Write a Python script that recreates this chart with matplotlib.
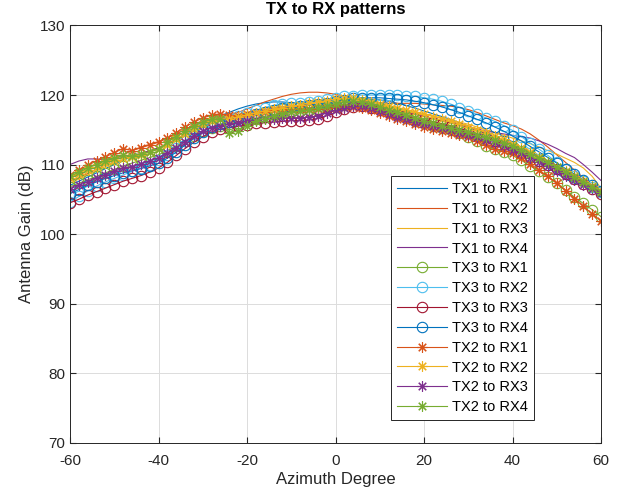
import numpy as np
import matplotlib
matplotlib.use("Agg")
import matplotlib.pyplot as plt

plt.rcParams['font.family'] = ['Liberation Sans', 'DejaVu Sans']
plt.rcParams['axes.unicode_minus'] = False

# azimuth grid, 2 degree steps
azimuth = np.arange(-60, 61, 2)

# gain values (dB)
tx1_rx1 = [107.0, 107.6, 108.2, 108.8, 109.4, 110.0, 110.7, 111.1, 111.5, 111.9, 112.3, 112.9, 113.6, 114.4, 115.2, 115.9,
           116.5, 117.0, 117.5, 118.0, 118.4, 118.7, 118.9, 119.0, 119.0, 118.9, 118.8, 118.7, 118.6, 118.7, 118.9, 119.1,
           119.3, 119.4, 119.4, 119.3, 119.1, 118.8, 118.5, 118.1, 117.7, 117.3, 116.9, 116.5, 116.0, 115.5, 115.0, 114.5,
           113.9, 113.3, 112.6, 111.9, 111.1, 110.3, 109.5, 108.7, 107.9, 107.3, 106.9, 106.5, 106.1]
tx1_rx2 = [107.6, 108.1, 108.7, 109.3, 110.0, 110.7, 111.4, 112.0, 112.5, 112.9, 113.3, 113.8, 114.4, 115.0, 115.6, 116.1,
           116.5, 116.8, 117.1, 117.5, 118.0, 118.5, 119.0, 119.4, 119.8, 120.1, 120.3, 120.4, 120.4, 120.3, 120.1, 119.8,
           119.5, 119.2, 119.0, 118.9, 118.8, 118.8, 118.8, 118.8, 118.7, 118.6, 118.5, 118.4, 118.2, 117.9, 117.5, 117.0,
           116.5, 116.0, 115.6, 115.1, 114.4, 113.5, 112.5, 111.4, 110.3, 109.2, 108.1, 107.0, 106.0]
tx1_rx3 = [107.3, 107.9, 108.5, 109.1, 109.7, 110.2, 110.7, 111.1, 111.5, 111.9, 112.4, 113.0, 113.7, 114.4, 115.1, 115.7,
           116.2, 116.6, 116.9, 117.2, 117.5, 117.8, 118.1, 118.4, 118.6, 118.8, 118.9, 119.0, 119.1, 119.2, 119.3, 119.4,
           119.4, 119.3, 119.1, 118.8, 118.5, 118.2, 117.9, 117.6, 117.3, 117.0, 116.7, 116.4, 116.1, 115.8, 115.4, 115.0,
           114.6, 114.2, 113.8, 113.4, 113.0, 112.5, 112.0, 111.5, 110.9, 110.3, 109.5, 108.3, 106.6]
tx1_rx4 = [110.0, 110.5, 110.8, 110.8, 110.7, 110.8, 111.0, 111.3, 111.6, 112.0, 112.4, 112.9, 113.5, 114.2, 114.9, 115.5,
           116.0, 116.4, 116.7, 117.0, 117.3, 117.6, 117.9, 118.1, 118.3, 118.4, 118.5, 118.6, 118.7, 118.8, 118.9, 119.0,
           119.0, 118.9, 118.7, 118.4, 118.1, 117.8, 117.5, 117.2, 116.9, 116.6, 116.3, 116.0, 115.7, 115.4, 115.1, 114.8,
           114.6, 114.4, 114.2, 114.0, 113.8, 113.4, 112.9, 112.3, 111.6, 111.0, 110.0, 108.9, 107.7]
tx3_rx1 = [106.8, 107.3, 107.8, 108.3, 108.8, 109.3, 109.8, 110.2, 110.6, 111.0, 111.4, 112.0, 112.7, 113.4, 114.1, 114.8,
           115.3, 115.6, 115.8, 116.0, 116.3, 116.6, 116.9, 117.2, 117.4, 117.6, 117.7, 117.8, 117.9, 118.1, 118.3, 118.6,
           118.8, 118.8, 118.5, 118.1, 117.6, 117.1, 116.7, 116.3, 115.9, 115.5, 115.2, 114.9, 114.5, 114.0, 113.4, 112.7,
           112.2, 111.8, 111.3, 110.6, 109.8, 109.0, 108.2, 107.3, 106.3, 105.3, 104.4, 103.5, 102.5]
tx3_rx2 = [104.6, 105.4, 106.2, 106.9, 107.5, 108.0, 108.5, 109.0, 109.5, 110.0, 110.6, 111.4, 112.4, 113.4, 114.4, 115.3,
           116.0, 116.4, 116.7, 117.0, 117.4, 117.8, 118.2, 118.5, 118.7, 118.8, 118.9, 119.0, 119.2, 119.4, 119.6, 119.8,
           119.9, 120.0, 120.0, 120.0, 120.0, 120.0, 119.9, 119.8, 119.6, 119.4, 119.1, 118.7, 118.2, 117.7, 117.2, 116.7,
           116.2, 115.6, 114.9, 114.0, 113.1, 112.2, 111.3, 110.3, 109.3, 108.4, 107.6, 106.8, 106.0]
tx3_rx3 = [104.5, 105.0, 105.6, 106.1, 106.6, 107.1, 107.6, 108.0, 108.4, 108.9, 109.5, 110.3, 111.3, 112.3, 113.2, 114.0,
           114.7, 115.1, 115.3, 115.5, 115.7, 115.9, 116.0, 116.1, 116.2, 116.3, 116.3, 116.4, 116.6, 117.0, 117.5, 118.0,
           118.3, 118.4, 118.2, 117.9, 117.6, 117.3, 117.0, 116.7, 116.4, 116.1, 115.8, 115.5, 115.2, 114.8, 114.4, 113.9,
           113.4, 112.9, 112.3, 111.7, 111.1, 110.5, 109.9, 109.3, 108.6, 107.9, 107.2, 106.5, 105.8]
tx3_rx4 = [105.8, 106.4, 107.0, 107.5, 108.0, 108.4, 108.8, 109.1, 109.4, 109.8, 110.2, 110.9, 111.8, 112.8, 113.8, 114.7,
           115.4, 115.8, 116.1, 116.5, 116.9, 117.3, 117.6, 117.9, 118.1, 118.3, 118.4, 118.5, 118.7, 118.9, 119.1, 119.3,
           119.5, 119.6, 119.6, 119.6, 119.5, 119.4, 119.3, 119.1, 118.9, 118.6, 118.3, 117.9, 117.5, 117.0, 116.5, 116.0,
           115.4, 114.8, 114.1, 113.4, 112.6, 111.8, 111.0, 110.2, 109.4, 108.6, 107.8, 107.0, 106.2]
tx2_rx1 = [108.5, 109.2, 109.9, 110.5, 111.1, 111.7, 112.3, 112.0, 112.4, 112.8, 113.2, 113.8, 114.6, 115.4, 116.1, 116.7,
           117.1, 117.3, 117.1, 117.0, 117.2, 117.4, 117.6, 117.8, 117.9, 118.0, 118.0, 118.0, 118.0, 118.1, 118.2, 118.3,
           118.3, 118.1, 117.8, 117.4, 117.0, 116.6, 116.2, 115.8, 115.4, 115.1, 114.8, 114.6, 114.3, 113.9, 113.4, 112.8,
           112.3, 112.0, 111.6, 110.9, 110.1, 109.2, 108.3, 107.3, 106.2, 105.1, 104.0, 102.9, 101.9]
tx2_rx2 = [108.0, 108.6, 109.2, 109.7, 110.2, 110.6, 111.0, 111.1, 111.4, 111.8, 112.2, 112.8, 113.6, 114.4, 115.1, 115.7,
           116.2, 116.5, 116.6, 116.8, 117.1, 117.4, 117.7, 118.0, 118.2, 118.4, 118.6, 118.8, 119.0, 119.2, 119.4, 119.5,
           119.5, 119.3, 119.0, 118.7, 118.4, 118.1, 117.8, 117.5, 117.2, 116.9, 116.6, 116.2, 115.8, 115.4, 115.0, 114.6,
           114.1, 113.6, 113.0, 112.4, 111.8, 111.1, 110.4, 109.7, 109.0, 108.3, 107.6, 106.9, 106.2]
tx2_rx3 = [106.5, 107.0, 107.5, 108.0, 108.5, 109.0, 109.5, 109.7, 110.1, 110.5, 111.0, 111.6, 112.4, 113.3, 114.1, 114.8,
           115.3, 115.6, 115.8, 116.0, 116.2, 116.4, 116.5, 116.6, 116.7, 116.7, 116.7, 116.8, 117.0, 117.4, 117.8, 118.2,
           118.4, 118.4, 118.1, 117.7, 117.3, 116.9, 116.5, 116.1, 115.8, 115.5, 115.2, 114.9, 114.6, 114.3, 113.9, 113.5,
           113.1, 112.6, 112.1, 111.6, 111.0, 110.4, 109.8, 109.1, 108.4, 107.7, 107.1, 106.5, 105.9]
tx2_rx4 = [108.3, 108.9, 109.5, 110.0, 110.5, 110.9, 111.3, 111.2, 111.5, 111.8, 112.2, 113.2, 114.0, 114.8, 115.5, 116.1,
           116.5, 116.6, 114.6, 114.8, 115.6, 116.2, 116.6, 117.0, 117.3, 117.5, 117.7, 117.9, 118.1, 118.4, 118.7, 119.0,
           119.1, 119.0, 118.7, 118.3, 117.9, 117.5, 117.1, 116.7, 116.3, 115.9, 115.6, 115.3, 115.0, 114.7, 114.3, 113.9,
           113.5, 113.1, 112.6, 112.1, 111.5, 110.9, 110.3, 109.6, 108.9, 108.2, 107.5, 106.8, 106.1]

labels = ['TX1 to RX1', 'TX1 to RX2', 'TX1 to RX3', 'TX1 to RX4',
          'TX3 to RX1', 'TX3 to RX2', 'TX3 to RX3', 'TX3 to RX4',
          'TX2 to RX1', 'TX2 to RX2', 'TX2 to RX3', 'TX2 to RX4']
series = [tx1_rx1, tx1_rx2, tx1_rx3, tx1_rx4,
          tx3_rx1, tx3_rx2, tx3_rx3, tx3_rx4,
          tx2_rx1, tx2_rx2, tx2_rx3, tx2_rx4]

# MATLAB default colour order
colors = ['#0072BD', '#D95319', '#EDB120', '#7E2F8E', '#77AC30', '#4DBEEE', '#A2142F',
          '#0072BD', '#D95319', '#EDB120', '#7E2F8E', '#77AC30']
markers = [None] * 4 + ['o'] * 4 + [(8, 2, 0)] * 4

fig = plt.figure(figsize=(6.18, 4.98), dpi=100)
ax = fig.add_axes([0.1133, 0.1114, 0.8592, 0.8374])

for vals, lab, c, m in zip(series, labels, colors, markers):
    if m is None:
        ax.plot(azimuth, vals, color=c, lw=0.8, label=lab)
    else:
        ax.plot(azimuth, vals, color=c, lw=0.8, marker=m, markersize=7.5,
                markerfacecolor='none', markeredgewidth=0.8, label=lab)

ax.set_xlim(-60, 60)
ax.set_ylim(70, 130)
ax.set_xticks(np.arange(-60, 61, 20))
ax.set_yticks(np.arange(70, 131, 10))
ax.grid(True, color='#dcdcdc', lw=0.7)
ax.set_axisbelow(True)
ax.tick_params(direction='in', top=True, right=True, labelsize=11, colors='#262626', length=4)
ax.tick_params(axis='x', pad=8)
for s in ax.spines.values():
    s.set_color('#262626')
    s.set_linewidth(0.7)

ax.set_xlabel('Azimuth Degree', fontsize=12, color='#262626', labelpad=3)
ax.set_ylabel('Antenna Gain (dB)', fontsize=12, color='#262626')
ax.set_title('TX to RX patterns', fontsize=12, fontweight='bold', pad=8)

leg = ax.legend(loc='lower right', bbox_to_anchor=(0.874, 0.054), fontsize=10.5, numpoints=1,
                handlelength=3.4, fancybox=False, framealpha=1, edgecolor='#262626',
                borderaxespad=0, labelspacing=0.4, handletextpad=0.4, borderpad=0.4)
leg.get_frame().set_linewidth(0.7)

fig.savefig('out.png', dpi=100)
